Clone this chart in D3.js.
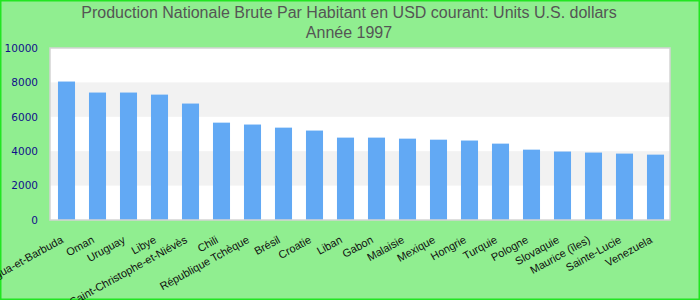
<!DOCTYPE html>
<html><head><meta charset="utf-8">
<script src="https://cdn.jsdelivr.net/npm/d3@7"></script>
<style>body{margin:0;background:#90ee90;} svg{display:block;}</style>
</head><body>
<script>
const titleLines = ["Production Nationale Brute Par Habitant en USD courant: Units U.S. dollars", "Année 1997"];
const categories = ["Antigua-et-Barbuda","Oman","Uruguay","Libye","Saint-Christophe-et-Niévès","Chili","République Tchèque","Brésil","Croatie","Liban","Gabon","Malaisie","Mexique","Hongrie","Turquie","Pologne","Slovaquie","Maurice (îles)","Sainte-Lucie","Venezuela"];
const values = [8050,7410,7410,7290,6770,5660,5550,5370,5200,4790,4790,4730,4670,4620,4440,4090,3980,3920,3860,3800];
const yTicks = [0,2000,4000,6000,8000,10000];

const W = 700, H = 300;
const svg = d3.select("body").append("svg").attr("width", W).attr("height", H);
svg.append("rect").attr("x",0.75).attr("y",0.75).attr("width",W-1.5).attr("height",H-1.5)
  .attr("fill","#90ee90").attr("stroke","#22e522").attr("stroke-width",1.5);

const plot = {l:50, r:670, t:48, b:220};
const x = d3.scaleBand().domain(categories).range([plot.l+1, plot.r+1]).paddingInner(0.45).paddingOuter(0.225);
const y = d3.scaleLinear().domain([0,10000]).range([plot.b, plot.t]);

svg.append("rect").attr("x",plot.l).attr("y",plot.t).attr("width",plot.r-plot.l).attr("height",plot.b-plot.t).attr("fill","#fff");
const stripes = [[2000,4000],[6000,8000]];
svg.selectAll("rect.stripe").data(stripes).enter().append("rect").attr("class","stripe")
  .attr("x",plot.l).attr("width",plot.r-plot.l)
  .attr("y",d=>y(d[1])).attr("height",d=>y(d[0])-y(d[1])).attr("fill","#f2f2f2");

svg.selectAll("rect.bar").data(values).enter().append("rect").attr("class","bar")
  .attr("x",(d,i)=>x(categories[i])).attr("width",x.bandwidth())
  .attr("y",d=>y(d)).attr("height",d=>y(0)-y(d)).attr("fill","#62a9f4");

svg.append("rect").attr("x",plot.l).attr("y",plot.t).attr("width",plot.r-plot.l).attr("height",plot.b-plot.t)
  .attr("fill","none").attr("stroke","#d4d4d4").attr("stroke-width",1.5);

const yAxis = d3.axisLeft(y).tickValues(yTicks).tickSize(0).tickPadding(12).tickFormat(d3.format("d"));
const gy = svg.append("g").attr("transform",`translate(${plot.l},0)`).call(yAxis);
gy.select(".domain").remove();
gy.selectAll("text").attr("fill","#10108a").style("font-family","'DejaVu Sans', sans-serif").style("font-size","10.5px");

const xAxis = d3.axisBottom(x).tickSize(0).tickPadding(0);
const gx = svg.append("g").attr("transform",`translate(0,${plot.b})`).call(xAxis);
gx.select(".domain").remove();
gx.selectAll(".tick text")
  .attr("text-anchor","end").attr("dy",0).attr("y",0)
  .attr("transform","translate(-2.5,22) rotate(-29)")
  .attr("fill","#111").style("font-family","'Liberation Sans', Arial, sans-serif").style("font-size","11px");

svg.append("g").selectAll("text").data(titleLines).enter().append("text")
  .attr("x",349).attr("y",(d,i)=>18+i*20).attr("text-anchor","middle")
  .attr("fill","#555").style("font-family","'Liberation Sans', Arial, sans-serif").style("font-size","16px")
  .text(d=>d);
</script>
</body></html>
